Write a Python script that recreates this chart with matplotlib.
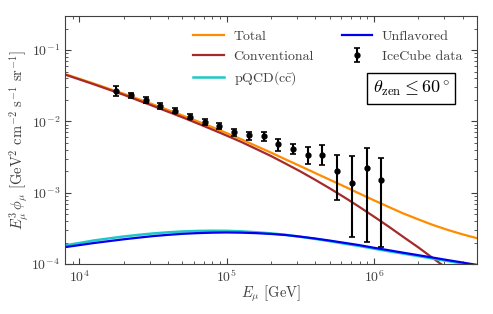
import matplotlib
matplotlib.use("Agg")
import matplotlib.pyplot as plt
import numpy as np

plt.rcParams['font.family'] = 'serif'
plt.rcParams['font.serif'] = ['cmr10']
plt.rcParams['mathtext.fontset'] = 'cm'
plt.rcParams['axes.formatter.use_mathtext'] = True
plt.rcParams['axes.unicode_minus'] = False

# IceCube data
E_data = [1.78e4, 2.24e4, 2.82e4, 3.55e4, 4.47e4, 5.62e4, 7.08e4, 8.91e4, 1.12e5,
          1.41e5, 1.78e5, 2.24e5, 2.82e5, 3.55e5, 4.47e5, 5.62e5, 7.08e5, 8.91e5, 1.12e6]
flux_data = [0.0267, 0.0234, 0.0198, 0.0164, 0.0141, 0.0116, 0.0098, 0.0087, 0.0070,
             0.0064, 0.0063, 0.00478, 0.00415, 0.00342, 0.00338, 0.00204, 0.00136, 0.00220, 0.00150]
flux_hi = [0.0316, 0.0252, 0.0218, 0.0179, 0.0154, 0.0128, 0.0107, 0.0096, 0.0077,
           0.0071, 0.0072, 0.0056, 0.00482, 0.00438, 0.00462, 0.00335, 0.00324, 0.0042, 0.00304]
flux_lo = [0.0227, 0.0213, 0.0181, 0.0149, 0.0130, 0.0107, 0.0089, 0.0078, 0.0063,
           0.00555, 0.00537, 0.00389, 0.00353, 0.00256, 0.00248, 0.000785, 0.00024, 0.000205, 0.000174]

# model curves, read every 0.1 decade
E_curve = [7.94e3, 1.00e4, 1.26e4, 1.58e4, 2.00e4, 2.51e4, 3.16e4, 3.98e4, 5.01e4, 6.31e4,
           7.94e4, 1.00e5, 1.26e5, 1.58e5, 2.00e5, 2.51e5, 3.16e5, 3.98e5, 5.01e5, 6.31e5,
           7.94e5, 1.00e6, 1.26e6, 1.58e6, 2.00e6, 2.51e6, 3.16e6, 3.98e6, 5.01e6]
total = [0.0463, 0.0396, 0.0338, 0.0288, 0.0244, 0.0206, 0.0173, 0.0145, 0.0121, 0.01007,
         0.00834, 0.00685, 0.00560, 0.00453, 0.00365, 0.00293, 0.00236, 0.00189, 0.00152, 0.00122,
         0.000975, 0.000782, 0.000630, 0.000512, 0.000422, 0.000353, 0.000301, 0.000261, 0.000230]
conventional = [0.0455, 0.0388, 0.0330, 0.0280, 0.0236, 0.0197, 0.0165, 0.0137, 0.0114, 0.00940,
                0.00773, 0.00632, 0.00514, 0.00412, 0.00327, 0.00256, 0.00199, 0.00152, 0.00115, 0.000859,
                0.000634, 0.000462, 0.000334, 0.000240, 0.000171, 0.000121, 8.53e-5, 5.98e-5, 4.19e-5]
pqcd = [1.82e-4, 1.97e-4, 2.14e-4, 2.28e-4, 2.43e-4, 2.56e-4, 2.68e-4, 2.78e-4, 2.86e-4, 2.91e-4,
        2.93e-4, 2.92e-4, 2.87e-4, 2.79e-4, 2.69e-4, 2.57e-4, 2.41e-4, 2.25e-4, 2.09e-4, 1.93e-4,
        1.79e-4, 1.64e-4, 1.51e-4, 1.40e-4, 1.29e-4, 1.19e-4, 1.10e-4, 1.02e-4, 9.4e-5]
unflavored = [1.72e-4, 1.84e-4, 1.97e-4, 2.09e-4, 2.22e-4, 2.34e-4, 2.46e-4, 2.56e-4, 2.65e-4, 2.71e-4,
              2.75e-4, 2.77e-4, 2.75e-4, 2.71e-4, 2.64e-4, 2.55e-4, 2.42e-4, 2.28e-4, 2.13e-4, 1.98e-4,
              1.84e-4, 1.69e-4, 1.56e-4, 1.44e-4, 1.33e-4, 1.23e-4, 1.135e-4, 1.05e-4, 9.7e-5]

fig = plt.figure(figsize=(4.93, 3.14), dpi=100)
ax = fig.add_axes([0.1318, 0.1592, 0.8357, 0.7898])

ax.plot(E_curve, total, color='darkorange', lw=1.6, label='Total')
ax.plot(E_curve, conventional, color='#a52a2a', lw=1.6, label='Conventional')
ax.plot(E_curve, pqcd, color='#1ec8c8', lw=1.8, label=r'pQCD($\mathrm{c\bar{c}}$)')
ax.plot(E_curve, unflavored, color='#0000ee', lw=1.6, label='Unflavored')

E_data = np.array(E_data)
flux_data = np.array(flux_data)
yerr = [flux_data - np.array(flux_lo), np.array(flux_hi) - flux_data]
ax.errorbar(E_data, flux_data, yerr=yerr, fmt='o', color='black', ms=3.5,
            elinewidth=1.5, capsize=2.5, capthick=1.2, label='IceCube data')

ax.set_xscale('log')
ax.set_yscale('log')
ax.set_xlim(8e3, 5e6)
ax.set_ylim(1e-4, 0.3)

ax.tick_params(which='both', direction='in', top=True, right=True, colors='0.25', labelsize=10)
ax.tick_params(which='major', length=4, width=0.8)
ax.tick_params(which='minor', length=2, width=0.6)
for sp in ax.spines.values():
    sp.set_color('0.25')
    sp.set_linewidth(0.8)

ax.set_xlabel(r'$E_\mu$ [GeV]', fontsize=10.5, color='0.25', labelpad=-1)
ax.set_ylabel(r'$E_\mu^3\,\phi_\mu$ [GeV$^2$ cm$^{-2}$ s$^{-1}$ sr$^{-1}$]',
              fontsize=10.5, color='0.25', labelpad=0)

leg = ax.legend(ncol=2, loc='upper right', bbox_to_anchor=(0.995, 0.993), frameon=False,
                fontsize=10, handlelength=2.2, handletextpad=0.7, columnspacing=2.0,
                labelspacing=0.5)
for t in leg.get_texts():
    t.set_color('0.25')

ax.text(0.84, 0.708, r'$\theta_{\rm zen} \leq 60^\circ$', transform=ax.transAxes,
        ha='center', va='center', fontsize=13,
        bbox=dict(boxstyle='square,pad=0.3', fc='white', ec='black', lw=1))

fig.savefig('out.png', dpi=100)
